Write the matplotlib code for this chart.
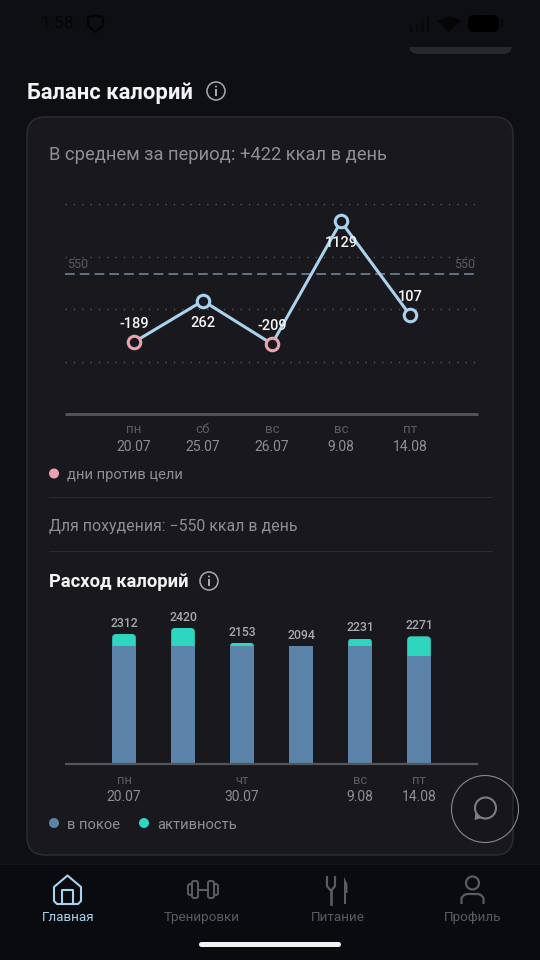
import matplotlib
matplotlib.use("Agg")
import matplotlib.pyplot as plt
from matplotlib.patches import FancyBboxPatch, Circle, Rectangle, Polygon

plt.rcParams['font.family'] = ['Roboto', 'DejaVu Sans']

# ---- data ----
balance_days = ["пн", "сб", "вс", "вс", "пт"]
balance_dates = ["20.07", "25.07", "26.07", "9.08", "14.08"]
balance_values = [-189, 262, -209, 1129, 107]
balance_off_target = [True, False, True, False, False]
balance_grid = [1320, 746, 172, -402]
target_value = 550

spend_days = ["пн", "", "чт", "", "вс", "пт"]
spend_dates = ["20.07", "", "30.07", "", "9.08", "14.08"]
spend_total = [2312, 2420, 2153, 2094, 2231, 2271]
spend_rest = [2094, 2094, 2094, 2094, 2094, 1928]
spend_active = [218, 326, 59, 0, 137, 343]

nav_labels = ["Главная", "Тренировки", "Питание", "Профиль"]

# ---- colours ----
BG = "#0e0f12"
CARD = "#19191d"
CARD_EDGE = "#2e2f34"
LINE_BLUE = "#a9d2ef"
PINK = "#e9a3b1"
REST = "#5c83a9"
ACTIVE = "#2fd6bf"
GREY_TXT = "#8e8f92"
DIM_TXT = "#5b5c60"
AXIS = "#55565a"
STATUS = "#050506"

W, H = 540, 960
fig = plt.figure(figsize=(W / 100, H / 100), dpi=100, facecolor=BG)


def axes_px(x0, y0, x1, y1, **kw):
    return fig.add_axes([x0 / W, 1 - y1 / H, (x1 - x0) / W, (y1 - y0) / H], **kw)


# ---- page layer in pixel coordinates ----
bg = axes_px(0, 0, W, H)
bg.set_xlim(0, W)
bg.set_ylim(H, 0)
bg.axis("off")


def T(x, y, s, size, color, ha="left", weight="normal"):
    bg.text(x, y, s, fontsize=size, color=color, ha=ha, va="center", fontweight=weight)


def info_icon(cx, cy):
    bg.add_patch(Circle((cx, cy), 9, fc="none", ec="#a9aaad", lw=1.1))
    bg.add_patch(Rectangle((cx - 0.8, cy - 2), 1.6, 7, fc="#a9aaad", ec="none"))
    bg.add_patch(Circle((cx, cy - 4.5), 1.0, fc="#a9aaad", ec="none"))


# clipped pill top right
bg.add_patch(FancyBboxPatch((409, 20), 103, 34, boxstyle="round,pad=0,rounding_size=9",
                            fc="#27282c", ec="none"))
bg.add_patch(Rectangle((400, 15), 125, 32, fc=BG, ec="none"))

# status bar (almost invisible on the dark backdrop)
T(41, 23.5, "1:58", 12.5, STATUS)
bg.add_patch(Polygon([(88, 17), (95.5, 15.5), (103, 17), (103, 25), (95.5, 32), (88, 25)],
                     fc="none", ec=STATUS, lw=1.6))
for i, hgt in enumerate([5, 8, 12, 16]):
    bg.add_patch(Rectangle((410 + i * 5.5, 32 - hgt), 2.5, hgt, fc="#09090b", ec="none"))
bg.add_patch(Polygon([(437, 21), (449, 16), (461, 21), (449, 32)], fc=STATUS, ec="none"))
bg.add_patch(FancyBboxPatch((468, 15), 31, 17, boxstyle="round,pad=0,rounding_size=6",
                            fc="#000000", ec="none"))
bg.add_patch(Rectangle((501, 20), 2, 7, fc=STATUS, ec="none"))

T(27, 93, "Баланс калорий", 15.85, "#f4f4f5", weight="bold")
info_icon(216, 91)

# card
bg.add_patch(FancyBboxPatch((27, 117), 486, 738, boxstyle="round,pad=0,rounding_size=18",
                            fc=CARD, ec=CARD_EDGE, lw=1.0))
T(49, 154.5, "В среднем за период: +422 ккал в день", 13.2, GREY_TXT)

T(67, 475, "дни против цели", 10.6, GREY_TXT)
bg.add_patch(Circle((54, 473.5), 5, fc=PINK, ec="none"))

bg.plot([49, 492], [496.5, 496.5], color="#2a2b2f", lw=0.8)
T(49, 526, "Для похудения: −550 ккал в день", 11.4, GREY_TXT)
bg.plot([49, 492], [551, 551], color="#2a2b2f", lw=0.8)

T(49, 582, "Расход калорий", 13.2, "#f4f4f5", weight="bold")
info_icon(209, 581)

bg.add_patch(Circle((54, 823), 5, fc=REST, ec="none"))
T(67, 825, "в покое", 10.6, GREY_TXT)
bg.add_patch(Circle((144, 823), 5, fc=ACTIVE, ec="none"))
T(157, 825, "активность", 10.6, GREY_TXT)

# bottom navigation
bg.add_patch(Rectangle((0, 864), W, 96, fc="#0a0b0e", ec="none"))
bg.plot([0, W], [864, 864], color="#16171a", lw=0.8)
for x, s, c in zip([68, 202, 338, 473], nav_labels, [LINE_BLUE, DIM_TXT, DIM_TXT, DIM_TXT]):
    T(x, 917.5, s, 9.7, c, ha="center")
# home icon
bg.add_patch(Polygon([(54, 887), (67.5, 875.5), (81, 887), (81, 901), (78, 904),
                      (57, 904), (54, 901)], closed=True, fc="none", ec=LINE_BLUE,
                     lw=1.5, joinstyle="round"))
bg.plot([62, 62, 73, 73], [904, 889.5, 889.5, 904], color=LINE_BLUE, lw=1.5)
# dumbbell icon
for x0, w, h in [(188, 4, 11), (192, 6, 17), (208, 6, 17), (214, 4, 11)]:
    bg.add_patch(FancyBboxPatch((x0, 889.5 - h / 2), w, h, boxstyle="round,pad=0,rounding_size=2",
                                fc="none", ec=DIM_TXT, lw=1.4))
bg.plot([198, 208], [889.5, 889.5], color=DIM_TXT, lw=1.5)
# fork and knife
bg.plot([327, 327, 331, 335, 335], [877, 886, 891, 886, 877], color=DIM_TXT, lw=1.6)
bg.plot([331, 331], [891, 904], color=DIM_TXT, lw=1.9)
bg.add_patch(Polygon([(344, 904), (344, 877), (347.5, 884), (347.5, 893), (346, 893), (346, 904)],
                     fc=DIM_TXT, ec="none"))
# person
bg.add_patch(Circle((472.5, 883), 6.5, fc="none", ec=DIM_TXT, lw=1.6))
bg.plot([461.5, 461.5, 464, 467, 478, 481, 483.5, 483.5],
        [903, 898, 895, 894, 894, 895, 898, 903], color=DIM_TXT, lw=1.6)
# home indicator
bg.add_patch(FancyBboxPatch((199, 942), 142, 5, boxstyle="round,pad=0,rounding_size=2.5",
                            fc="#f2f2f3", ec="none"))

# ---- line chart: 1 value = 0.0915 px, value 0 at pixel row 324.8 ----
lx0, lx1, ly0, ly1 = 65, 478, 190, 414
line_ax = axes_px(lx0, ly0, lx1, ly1, facecolor="none")
line_ax.set_xlim(-1.0, 4.986)
line_ax.set_ylim((324.8 - ly1) / 0.0915, (324.8 - ly0) / 0.0915)
xs = list(range(len(balance_values)))

line_ax.set_yticks(balance_grid)
line_ax.set_yticklabels([])
line_ax.grid(axis="y", color="#55565a", lw=1.0, linestyle=(0, (1, 5)))
line_ax.tick_params(left=False, bottom=False, labelleft=False, labelbottom=False)
for side, sp in line_ax.spines.items():
    sp.set_visible(side == "bottom")
line_ax.spines["bottom"].set_color(AXIS)
line_ax.spines["bottom"].set_linewidth(2.0)
line_ax.spines["bottom"].set_capstyle("butt")

line_ax.axhline(target_value, color="#63748a", lw=1.4, linestyle=(0, (5, 2.6)), zorder=2)
line_ax.annotate(str(target_value), (0, target_value), xycoords=("axes fraction", "data"),
                 xytext=(1.5, 2.4), textcoords="offset points", fontsize=9, color=DIM_TXT, ha="left", va="bottom")
line_ax.annotate(str(target_value), (1, target_value), xycoords=("axes fraction", "data"),
                 xytext=(-2, 2.4), textcoords="offset points", fontsize=9, color=DIM_TXT, ha="right", va="bottom")

line_ax.plot(xs, balance_values, color=LINE_BLUE, lw=2.2, zorder=3, solid_joinstyle="round")
for x, v, off in zip(xs, balance_values, balance_off_target):
    line_ax.plot([x], [v], "o", ms=9, mew=2.2, mfc=CARD, mec=PINK if off else LINE_BLUE, zorder=4)

label_offsets_px = [18, -22, 18, -22, 18]
for x, v, o in zip(xs, balance_values, label_offsets_px):
    line_ax.annotate(str(v), (x, v), xytext=(0, o * 0.72), textcoords="offset points",
                     fontsize=10.5, color="#f6f6f6", ha="center", va="center", zorder=5, fontweight="medium")

for x, d, dt in zip(xs, balance_days, balance_dates):
    line_ax.annotate(d, (x, 0), xycoords=("data", "axes fraction"), xytext=(0, -11.5),
                     textcoords="offset points", fontsize=9.6, color=DIM_TXT, ha="center", va="center",
                     annotation_clip=False)
    line_ax.annotate(dt, (x, 0), xycoords=("data", "axes fraction"), xytext=(0, -23.6),
                     textcoords="offset points", fontsize=10, color=GREY_TXT, ha="center", va="center",
                     annotation_clip=False)

# ---- bar chart: 1 value = 0.056 px ----
bx0, bx1, by0, by1 = 65, 478, 600, 763.5
bar_ax = axes_px(bx0, by0, bx1, by1, facecolor="none")
bar_ax.set_xlim((65 - 124) / 59, (478 - 124) / 59)
bar_ax.set_ylim(0, (by1 - by0) / 0.056)
bar_ax.tick_params(left=False, bottom=False, labelleft=False, labelbottom=False)
for side, sp in bar_ax.spines.items():
    sp.set_visible(side == "bottom")
bar_ax.spines["bottom"].set_color(AXIS)
bar_ax.spines["bottom"].set_linewidth(1.6)
bar_ax.spines["bottom"].set_zorder(5)
bar_ax.spines["bottom"].set_capstyle("butt")

bx = list(range(len(spend_total)))
bw = 23.7 / 59
bar_ax.bar(bx, spend_rest, width=bw, color=REST, zorder=3)
act = bar_ax.bar(bx, spend_active, width=bw, bottom=spend_rest, color=ACTIVE, zorder=2)

px_x = 59.0
px_y = 0.056
for rect, x, r, a in zip(act, bx, spend_rest, spend_active):
    if a <= 0:
        continue
    rad = min(4.0, a * px_y) / px_x
    clip = FancyBboxPatch((x - bw / 2, r - 200), bw, a + 200,
                          boxstyle=f"round,pad=0,rounding_size={rad}",
                          mutation_aspect=px_x / px_y, transform=bar_ax.transData)
    rect.set_clip_path(clip)

for x, t in zip(bx, spend_total):
    bar_ax.annotate(str(t), (x, t), xytext=(0, 3), textcoords="offset points", fontsize=8.8,
                    color="#a9aaad", ha="center", va="bottom", fontweight="medium", annotation_clip=False)
for x, d, dt in zip(bx, spend_days, spend_dates):
    if d:
        bar_ax.annotate(d, (x, 0), xycoords=("data", "axes fraction"), xytext=(0, -12.6),
                        textcoords="offset points", fontsize=9.4, color=DIM_TXT, ha="center", va="center",
                        annotation_clip=False)
        bar_ax.annotate(dt, (x, 0), xycoords=("data", "axes fraction"), xytext=(0, -23.8),
                        textcoords="offset points", fontsize=10, color=GREY_TXT, ha="center", va="center",
                        annotation_clip=False)

# ---- chat button on top ----
top = axes_px(0, 0, W, H, facecolor="none")
top.set_xlim(0, W)
top.set_ylim(H, 0)
top.axis("off")
top.add_patch(Circle((485, 809), 33.5, fc=(0.06, 0.07, 0.08, 0.15), ec="#7f8a90", lw=0.8))
top.add_patch(Circle((485.5, 808), 10.5, fc="none", ec="#7d7e82", lw=1.5))
top.add_patch(Polygon([(475.5, 812), (474.5, 820), (482, 818)], fc="#7d7e82", ec="none"))

fig.savefig("out.png", dpi=100, facecolor=BG)
